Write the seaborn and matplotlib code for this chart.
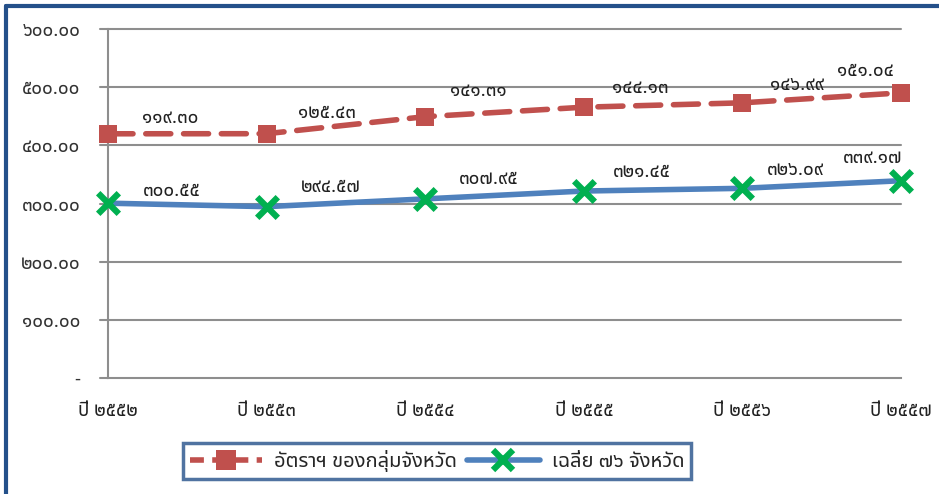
import numpy as np
import pandas as pd
import matplotlib
matplotlib.use("Agg")
import matplotlib.pyplot as plt
import seaborn as sns
from matplotlib import font_manager
from matplotlib.ft2font import FT2Font
from matplotlib.lines import Line2D

# ---------------- data ----------------
years = ["ปี ๒๕๕๒", "ปี ๒๕๕๓", "ปี ๒๕๕๔", "ปี ๒๕๕๕", "ปี ๒๕๕๖", "ปี ๒๕๕๗"]
avg76 = [300.55, 294.57, 307.95, 321.45, 326.09, 339.17]          # เฉลี่ย ๗๖ จังหวัด
group_rate = [119.30, 125.43, 141.31, 144.13, 146.99, 151.04]     # อัตราฯ ของกลุ่มจังหวัด (stacked)
yticks = [0, 100, 200, 300, 400, 500, 600]
series_names = ["อัตราฯ ของกลุ่มจังหวัด", "เฉลี่ย ๗๖ จังหวัด"]

THAI_DIGITS = str.maketrans("0123456789", "๐๑๒๓๔๕๖๗๘๙")


def thai_num(v):
    return f"{v:,.2f}".translate(THAI_DIGITS)


# ---------------- font with Thai glyphs ----------------
def find_thai_font():
    prefer = ["Noto Sans Thai", "Noto Sans Thai UI", "Tahoma", "Loma", "Garuda",
              "Norasi", "Kinnari", "Sarabun", "Noto Serif Thai", "Waree"]
    found = {}
    for f in font_manager.fontManager.ttflist:
        try:
            ft = FT2Font(f.fname)
            if ft.get_char_index(ord("จ")) and ft.get_char_index(ord("๕")):
                found.setdefault(f.name, f.fname)
        except Exception:
            pass
    for p in prefer:
        if p in found:
            return p
    if found:
        return sorted(found)[0]
    return None


sns.set_theme(style="white")
thai = find_thai_font()
fams = ([thai] if thai else []) + ["DejaVu Sans"]
plt.rcParams["font.family"] = fams

# ---------------- dataframe (stacked line) ----------------
x = np.arange(len(years))
stacked = [a + b for a, b in zip(avg76, group_rate)]
df = pd.DataFrame({
    "x": np.concatenate([x, x]),
    "value": stacked + avg76,
    "series": [series_names[0]] * len(x) + [series_names[1]] * len(x),
})

RED = "#C0504D"
BLUE = "#4F81BD"
GREEN = "#00B050"
GRID = "#8E8E8E"
FRAME = "#24508A"

fig = plt.figure(figsize=(9.39, 4.94), dpi=100)
ax = fig.add_axes([108 / 939, 1 - 378 / 494, (901 - 108) / 939, (378 - 29) / 494])

sns.lineplot(data=df[df.series == series_names[1]], x="x", y="value", ax=ax,
             color=BLUE, linewidth=4, legend=False, zorder=3)
sns.lineplot(data=df[df.series == series_names[0]], x="x", y="value", ax=ax,
             color=RED, linewidth=4, legend=False, zorder=3)
ax.lines[1].set_dashes([4.5, 2.3])
ax.lines[1].set_dash_capstyle("round")
for ln in ax.lines:
    ln.set_clip_on(False)

ax.scatter(x, avg76, marker="x", s=220, linewidths=4.5, color=GREEN, zorder=5, clip_on=False)
ax.scatter(x, stacked, marker="s", s=180, color=RED, zorder=5, linewidths=0, clip_on=False)

ax.set_xlim(x[0], x[-1])
ax.set_ylim(0, 600)
ax.set_yticks(yticks)
ax.set_yticklabels(["-" if v == 0 else thai_num(v) for v in yticks])
ax.set_xticks(x)
ax.set_xticklabels(years)
ax.set_xlabel("")
ax.set_ylabel("")

for s in ["top", "right"]:
    ax.spines[s].set_visible(False)
for s in ["left", "bottom"]:
    ax.spines[s].set_color(GRID)
    ax.spines[s].set_linewidth(1.5)

# gridlines extend slightly left of the axis (like tick marks)
for v in yticks[1:]:
    ax.plot([-0.05, x[-1]], [v, v], color=GRID, lw=1.5, zorder=1, clip_on=False)
ax.plot([-0.05, 0], [0, 0], color=GRID, lw=1.5, zorder=1, clip_on=False)

ax.tick_params(axis="y", length=0, pad=20, labelsize=13.5, colors="#333333")
ax.tick_params(axis="x", length=6, width=1.5, color=GRID, direction="out",
               pad=11, labelsize=13.5, colors="#222222")

# data labels (offsets in pixels)
red_off = [(62, 16), (60, 21), (53, 26), (56, 19), (55, 18), (-36, 22)]
blue_off = [(64, 12), (64, 20), (63, 20), (58, 19), (53, 18), (-28, 23)]
for i in range(len(x)):
    ax.annotate(thai_num(group_rate[i]), (x[i], stacked[i]), xytext=red_off[i],
                textcoords="offset pixels", ha="center", va="center",
                fontsize=13.5, color="#222222", zorder=6, annotation_clip=False)
    ax.annotate(thai_num(avg76[i]), (x[i], avg76[i]), xytext=blue_off[i],
                textcoords="offset pixels", ha="center", va="center",
                fontsize=13.5, color="#222222", zorder=6, annotation_clip=False)

# legend
handles = [
    Line2D([0], [0], color=RED, lw=4, dashes=[2.5, 1.5], marker="s", markersize=15,
           markeredgewidth=0, markerfacecolor=RED),
    Line2D([0], [0], color=BLUE, lw=4, marker="x", markersize=14, markeredgewidth=4.5,
           markeredgecolor=GREEN),
]
leg = fig.legend(handles, series_names, loc="center", bbox_to_anchor=(437 / 939, 1 - 461 / 494),
                 ncol=2, frameon=True, fontsize=14.5, handlelength=3.6, columnspacing=0.5,
                 handletextpad=0.6, borderpad=0.35, fancybox=False)
leg.get_frame().set_edgecolor(FRAME)
leg.get_frame().set_linewidth(2.5)

# outer frame (top and left)
fig.add_artist(Line2D([6 / 939, 1], [1 - 6 / 494, 1 - 6 / 494], color=FRAME, lw=3,
                      transform=fig.transFigure))
fig.add_artist(Line2D([6 / 939, 6 / 939], [0, 1 - 6 / 494], color=FRAME, lw=3,
                      transform=fig.transFigure))

fig.savefig("out.png", dpi=100)
